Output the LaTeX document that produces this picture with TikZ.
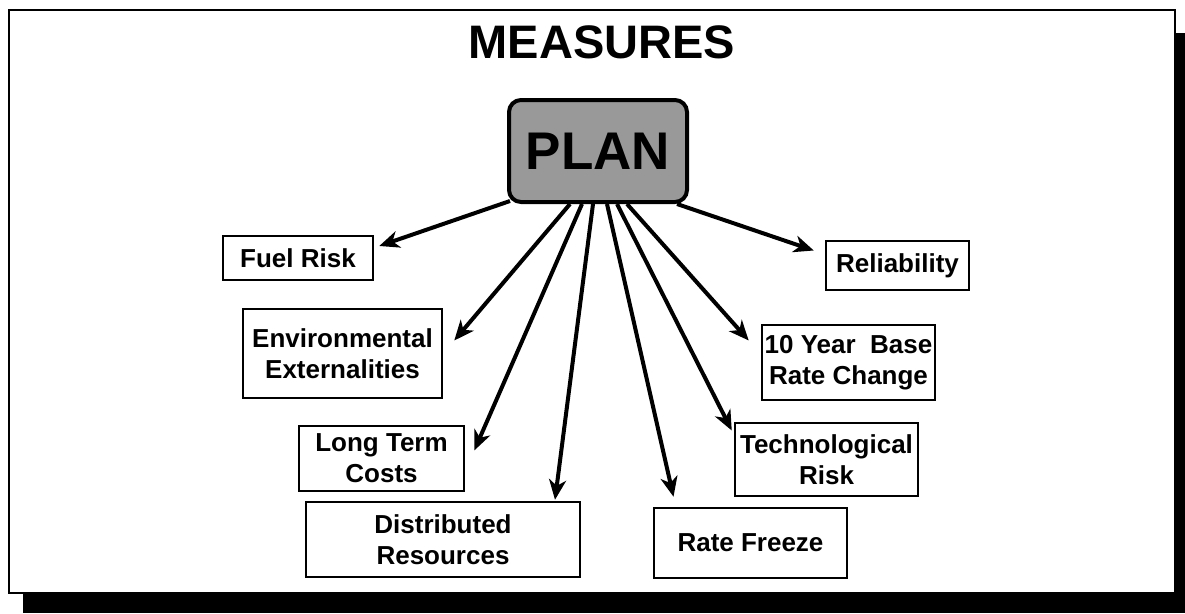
\documentclass[tikz,border=0pt]{standalone}
\usepackage{fontspec}
\setmainfont{Liberation Sans}
\usetikzlibrary{arrows.meta}
\begin{document}
\begin{tikzpicture}[x=1pt,y=-1pt,
  box/.style={draw=black,line width=2.5pt,fill=white,align=center,inner sep=0pt,
    font=\fontsize{26}{31}\selectfont\bfseries},
  arr/.style={line width=4pt,-{Stealth[length=20pt,width=17pt,inset=6pt]}}]
\useasboundingbox (0,0) rectangle (1185,613);
% shadow and frame
\fill[black] (23,33) rectangle (1185,613);
\draw[line width=2.5pt,fill=white] (9,10) rectangle (1175,593);
\node[font=\fontsize{47}{56}\selectfont\bfseries] (title) at (602,42) {MEASURES};
% plan
\node[draw=black,line width=4pt,fill=black!40,rounded corners=12pt,minimum width=178pt,minimum height=102pt,
  inner sep=0pt,font=\fontsize{53}{60}\selectfont\bfseries] (plan) at (598,151) {PLAN};
% boxes
\node[box,minimum width=150pt,minimum height=44pt] (fuel) at (298,258) {Fuel Risk};
\node[box,minimum width=143pt,minimum height=49pt] (rel) at (897.5,265.5) {Reliability};
\node[box,minimum width=199pt,minimum height=89pt] (env) at (342.5,353.5) {Environmental\\Externalities};
\node[box,minimum width=173pt,minimum height=75pt] (ten) at (848.5,362.5) {10 Year\ \ Base\\Rate Change};
\node[box,minimum width=165pt,minimum height=65pt] (ltc) at (381.5,458.5) {Long Term\\Costs};
\node[box,minimum width=183pt,minimum height=73pt] (tech) at (826.5,459.5) {Technological\\Risk};
\node[box,minimum width=274pt,minimum height=75pt] (dist) at (443,539.5) {Distributed\\Resources};
\node[box,minimum width=193pt,minimum height=70pt] (rf) at (750.5,543) {Rate Freeze};
% arrows
\draw[arr] ([xshift=3pt,yshift=3pt]plan.south west) -- ([xshift=5pt,yshift=12pt]fuel.east);
\draw[arr] ([xshift=-28pt]plan.south) -- ([xshift=11pt,yshift=13pt]env.east);
\draw[arr] ([xshift=-16pt]plan.south) -- ([xshift=9pt,yshift=8pt]ltc.east);
\draw[arr] ([xshift=-5pt]plan.south) -- ([xshift=112pt,yshift=1pt]dist.north);
\draw[arr] ([xshift=9pt]plan.south) -- ([xshift=-77pt,yshift=10pt]rf.north);
\draw[arr] ([xshift=19pt]plan.south) -- ([xshift=-2pt,yshift=29pt]tech.west);
\draw[arr] ([xshift=29pt]plan.south) -- ([xshift=-12pt,yshift=22pt]ten.west);
\draw[arr] ([xshift=-12pt]plan.south east) -- ([xshift=-11pt,yshift=15pt]rel.west);
\end{tikzpicture}
\end{document}
